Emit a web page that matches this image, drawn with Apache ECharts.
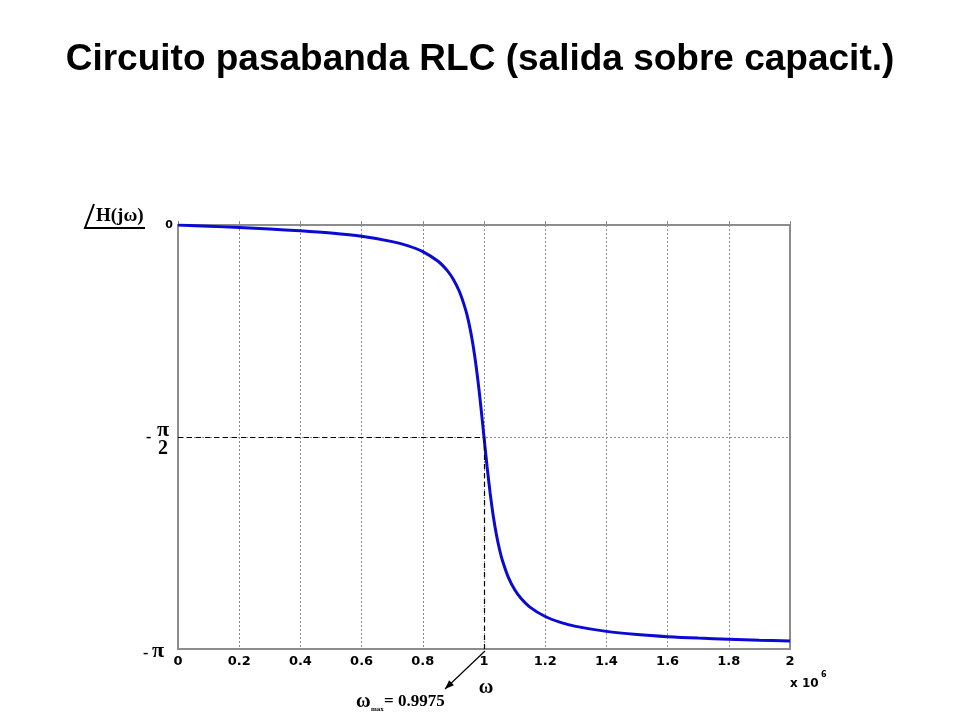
<!DOCTYPE html>
<html>
<head>
<meta charset="utf-8">
<script src="https://cdn.jsdelivr.net/npm/echarts@6/dist/echarts.min.js"></script>
<style>html,body{margin:0;padding:0;background:#fff}#c{width:960px;height:720px}</style>
</head>
<body>
<div id="c"></div>
<script>
// Values (omega in units of 1e6 rad/s, phase in rad)
var omega = [0, 0.1, 0.2, 0.3, 0.4, 0.5, 0.6, 0.7, 0.75, 0.8, 0.85, 0.88, 0.9, 0.92, 0.94, 0.95, 0.96, 0.97, 0.98, 0.99, 1.0,
             1.01, 1.02, 1.03, 1.04, 1.05, 1.06, 1.08, 1.1, 1.12, 1.15, 1.2, 1.25, 1.3, 1.4, 1.5, 1.6, 1.7, 1.8, 1.9, 2.0];
var phase = [0, -0.009, -0.019, -0.030, -0.043, -0.060, -0.084, -0.123, -0.153, -0.197, -0.269, -0.338, -0.403, -0.495, -0.629, -0.720, -0.834, -0.976, -1.149, -1.351, -1.571,
             -1.789, -1.985, -2.152, -2.288, -2.397, -2.484, -2.613, -2.701, -2.764, -2.831, -2.901, -2.944, -2.974, -3.011, -3.034, -3.050, -3.061, -3.069, -3.076, -3.082];
var xTicks = [0, 0.2, 0.4, 0.6, 0.8, 1, 1.2, 1.4, 1.6, 1.8, 2];
var omegaMax = 0.9975;
var titleText = 'Circuito pasabanda RLC (salida sobre capacit.)';

var chart = echarts.init(document.getElementById('c'));
var PI = Math.PI;
var data = omega.map(function (w, i) { return [w, phase[i]]; });

var option = {
  backgroundColor: '#ffffff',
  animation: false,
  title: {
    text: titleText, left: 'center', top: 36,
    textStyle: { fontFamily: 'Liberation Sans', fontWeight: 'bold', fontSize: 37, color: '#000' }
  },
  grid: { left: 178, right: 170, top: 225, bottom: 71, show: true, borderColor: '#8c8c8c', borderWidth: 2, backgroundColor: 'transparent' },
  xAxis: {
    type: 'value', min: 0, max: 2, interval: 0.2,
    axisLine: { show: true, lineStyle: { color: '#8c8c8c', width: 2 } },
    axisTick: { show: true, inside: true, length: 4, lineStyle: { color: '#8c8c8c' } },
    axisLabel: {
      margin: 6, color: '#000', fontFamily: 'DejaVu Sans', fontWeight: 'bold', fontSize: 13,
      formatter: function (v) { var r = Math.round(v * 10) / 10; return xTicks.indexOf(r) >= 0 ? String(r) : ''; }
    },
    splitLine: { show: true, lineStyle: { color: '#8c8c8c', type: [2, 2], width: 1 } }
  },
  yAxis: {
    type: 'value', min: -PI, max: 0, interval: PI / 2,
    axisLine: { show: true, lineStyle: { color: '#8c8c8c', width: 2 } },
    axisTick: { show: false },
    axisLabel: {
      margin: 5, color: '#000', fontFamily: 'DejaVu Sans', fontWeight: 'bold', fontSize: 11,
      formatter: function (v) { return Math.abs(v) < 1e-9 ? '0' : ''; }
    },
    splitLine: { show: true, lineStyle: { color: '#8c8c8c', type: [2, 2], width: 1 } }
  },
  series: [
    {
      type: 'line', data: data, smooth: 0.3, showSymbol: false, symbol: 'none',
      lineStyle: { color: '#0a0ad2', width: 3 }, z: 3,
      markLine: {
        silent: true, symbol: 'none', animation: false,
        lineStyle: { color: '#000', type: [5, 4], width: 1.2 },
        label: { show: false },
        data: [
          [{ coord: [0, -PI / 2] }, { coord: [1, -PI / 2] }],
          [{ coord: [1, -PI / 2] }, { coord: [1, -PI] }]
        ]
      }
    }
  ]
};
chart.setOption(option);

function px(x, y) { return chart.convertToPixel({ gridIndex: 0 }, [x, y]); }
function txt(x, y, s, size, fam, align) {
  return { type: 'text', x: x, y: y, style: { text: s, fontSize: size, fontWeight: 'bold', fontFamily: fam, fill: '#000', align: align || 'left', verticalAlign: 'middle' } };
}
var pMid = px(0, -PI / 2), pBot = px(0, -PI), pTop = px(0, 0);
var pW = px(1, -PI), pEnd = px(2, -PI);
var serif = 'Liberation Serif', sans = 'DejaVu Sans';
var g = [];
// Y axis labels with pi
g.push(txt(pMid[0] - 32, pMid[1] + 1, '-', 16, serif));
g.push(txt(pMid[0] - 21, pMid[1] - 7, 'π', 22, serif));
g.push(txt(pMid[0] - 20, pMid[1] + 12, '2', 20, serif));
g.push(txt(pBot[0] - 35, pBot[1] + 5, '-', 16, serif));
g.push(txt(pBot[0] - 26, pBot[1] + 2, 'π', 22, serif));
// Y axis name: angle H(jw)
g.push({ type: 'polyline', shape: { points: [[pTop[0] - 84, pTop[1] - 21], [pTop[0] - 93, pTop[1] + 3], [pTop[0] - 33, pTop[1] + 3]] }, style: { stroke: '#000', lineWidth: 2, fill: null } });
g.push(txt(pTop[0] - 82, pTop[1] - 9, 'H(jω)', 19, serif));
// X axis name and multiplier
g.push(txt(pW[0] + 2, pW[1] + 39, 'ω', 20, serif, 'center'));
g.push(txt(pEnd[0], pEnd[1] + 35, 'x 10', 12, sans));
g.push(txt(pEnd[0] + 31, pEnd[1] + 26, '6', 8, sans));
// Annotation arrow to omega_max
var ax0 = pW[0] + 1, ay0 = pW[1] + 2, ax1 = pW[0] - 39, ay1 = pW[1] + 40;
g.push({ type: 'line', shape: { x1: ax0, y1: ay0, x2: ax1, y2: ay1 }, style: { stroke: '#000', lineWidth: 1.2 } });
var ang = Math.atan2(ay1 - ay0, ax1 - ax0), L = 9, W = 3.5;
var bx = ax1 - L * Math.cos(ang), by = ay1 - L * Math.sin(ang);
g.push({ type: 'polygon', shape: { points: [[ax1, ay1], [bx + W * Math.sin(ang), by - W * Math.cos(ang)], [bx - W * Math.sin(ang), by + W * Math.cos(ang)]] }, style: { fill: '#000' } });
g.push(txt(pW[0] - 128, pW[1] + 53, 'ω', 20, serif));
g.push(txt(pW[0] - 113, pW[1] + 60, 'max', 7, serif));
g.push(txt(pW[0] - 100, pW[1] + 53, '= ' + omegaMax, 17, serif));
chart.setOption({ graphic: g });
</script>
</body>
</html>
